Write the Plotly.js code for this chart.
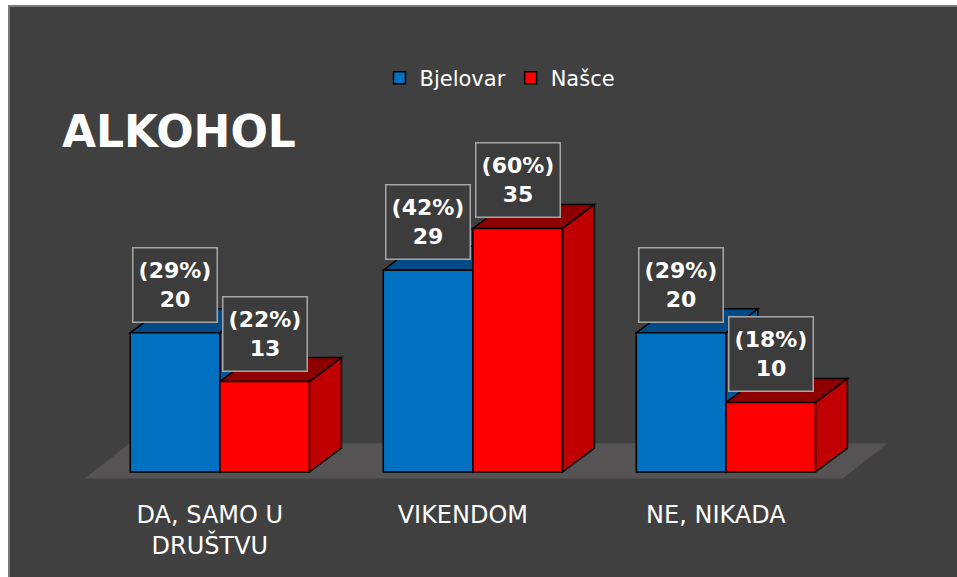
<!DOCTYPE html>
<html>
<head>
<meta charset="utf-8">
<script src="https://cdn.plot.ly/plotly-3.0.1.min.js"></script>
<style>
  html, body { margin: 0; padding: 0; background: #ffffff; }
  #wrap { position: relative; width: 957px; height: 577px; overflow: hidden; }
  #chart { width: 957px; height: 577px; }
  .edge { position: absolute; pointer-events: none; }
</style>
</head>
<body>
<div id="wrap">
  <div id="chart"></div>
  <div class="edge" style="left:0;top:0;width:8px;height:577px;background:#ffffff;"></div>
  <div class="edge" style="left:0;top:0;width:957px;height:5px;background:#ffffff;"></div>
  <div class="edge" style="left:8px;top:5px;width:2px;height:572px;background:#7a7a7a;"></div>
  <div class="edge" style="left:8px;top:5px;width:949px;height:2px;background:#7a7a7a;"></div>
</div>
<script>
// ---- data ----
const categories = ['DA, SAMO U<br>DRUŠTVU', 'VIKENDOM', 'NE, NIKADA'];
const seriesNames = ['Bjelovar', 'Našce'];
const bjelovarValues = [20, 29, 20];
const naseValues = [13, 35, 10];
const bjelovarPct = ['29%', '42%', '29%'];
const nasePct = ['22%', '60%', '18%'];

// ---- styling constants ----
const FONT = 'DejaVu Sans, sans-serif';
const W = 0.354;      // bar width in category units
const DX = 0.1265;    // depth offset (x units)
const DY = 3.45;      // depth offset (y units)
const idx = categories.map((_, i) => i);

const series = [
  { name: seriesNames[0], values: bjelovarValues, pct: bjelovarPct, offset: -W,
    front: '#0070C0', side: '#00589a', top: '#004a85' },
  { name: seriesNames[1], values: naseValues, pct: nasePct, offset: 0,
    front: '#FF0000', side: '#C00000', top: '#8e0000' }
];

const traces = series.map(s => ({
  type: 'bar',
  name: s.name,
  x: idx,
  y: s.values,
  width: W,
  offset: s.offset,
  marker: { color: s.front, line: { color: '#000000', width: 1.5 } },
  hoverinfo: 'skip'
}));

// floor
const shapes = [{
  type: 'path', layer: 'below', xref: 'x', yref: 'y',
  path: `M ${idx[0] - 0.534},-0.9 L ${idx[0] - 0.356},4.13 L ${idx[idx.length-1] + 0.640},4.13 L ${idx[idx.length-1] + 0.462},-0.9 Z`,
  fillcolor: '#555354', line: { width: 0 }
}];

idx.forEach(i => {
  series.forEach(s => {
    const h = s.values[i];
    const xL = i + s.offset;
    const xR = xL + W;
    shapes.push({
      type: 'path', layer: 'below', xref: 'x', yref: 'y',
      path: `M ${xR},0 L ${xR},${h} L ${xR + DX},${h + DY} L ${xR + DX},${DY} Z`,
      fillcolor: s.side, line: { color: '#000000', width: 1.5 }
    });
    shapes.push({
      type: 'path', layer: 'below', xref: 'x', yref: 'y',
      path: `M ${xL},${h} L ${xR},${h} L ${xR + DX},${h + DY} L ${xL + DX},${h + DY} Z`,
      fillcolor: s.top, line: { color: '#000000', width: 1.5 }
    });
  });
});

const annotations = [];
series.forEach(s => {
  idx.forEach(i => {
    annotations.push({
      xref: 'x', yref: 'y',
      x: i + s.offset + W / 2,
      y: s.values[i],
      yshift: 48,
      xanchor: 'center', yanchor: 'middle',
      text: `(${s.pct[i]})<br>${s.values[i]}`,
      showarrow: false,
      font: { family: FONT, size: 22, color: '#ffffff', weight: 'bold' },
      bgcolor: '#3c3c3c',
      bordercolor: '#a6a6a6',
      borderwidth: 1.5,
      borderpad: 1,
      width: 81,
      height: 71
    });
  });
});

const layout = {
  width: 957,
  height: 577,
  paper_bgcolor: '#404040',
  plot_bgcolor: 'rgba(0,0,0,0)',
  margin: { l: 68.2, r: 53.9, t: 124.2, b: 84.45 },
  showlegend: true,
  title: {
    text: 'ALKOHOL',
    font: { family: FONT, size: 44, color: '#ffffff', weight: 'bold' },
    xref: 'container', yref: 'container',
    x: 62 / 957, xanchor: 'left',
    y: 1 - 132 / 577, yanchor: 'middle'
  },
  legend: {
    orientation: 'h',
    xref: 'container', yref: 'container',
    x: 500 / 957, xanchor: 'center',
    y: 1 - 78 / 577, yanchor: 'middle',
    font: { family: FONT, size: 21, color: '#ffffff' },
    bgcolor: 'rgba(0,0,0,0)',
    itemwidth: 30,
    traceorder: 'normal'
  },
  xaxis: {
    range: [-0.6, 2.7],
    tickvals: idx,
    ticktext: categories,
    ticklabelshift: -10,
    ticklabelstandoff: 5,
    tickfont: { family: FONT, size: 24, color: '#ffffff' },
    showgrid: false, zeroline: false, showline: false, ticks: '',
    fixedrange: true
  },
  yaxis: {
    range: [-3, 50],
    showticklabels: false,
    showgrid: false, zeroline: false, showline: false, ticks: '',
    fixedrange: true
  },
  shapes: shapes,
  annotations: annotations
};

Plotly.newPlot('chart', traces, layout, { displayModeBar: false, staticPlot: true });
</script>
</body>
</html>
